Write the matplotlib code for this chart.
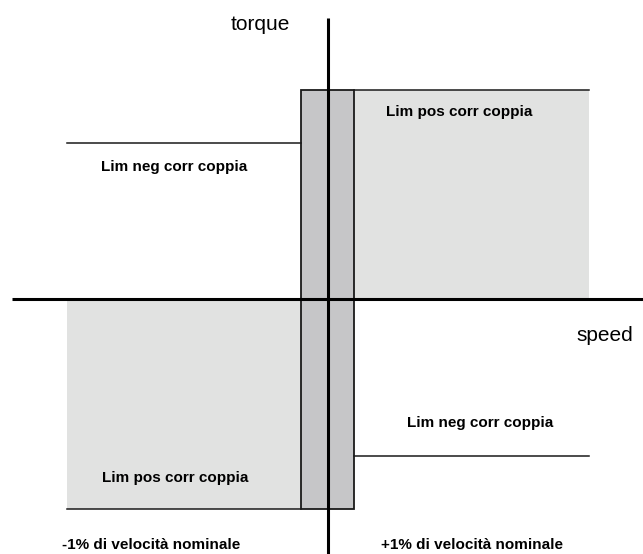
import matplotlib
matplotlib.use("Agg")
import matplotlib.pyplot as plt
from matplotlib.patches import Rectangle

plt.rcParams['font.family'] = ['Liberation Sans', 'DejaVu Sans']

# --- data (speed in % of nominal, torque normalised) ---
speed_band = [-1.0, 1.0]          # ±1% di velocità nominale
speed_extent = [-9.85, 9.85]      # horizontal extent of the limit regions
torque_pos_lim = 1.0              # Lim pos corr coppia
torque_neg_lim = 0.75             # Lim neg corr coppia
axis_labels = ["speed", "torque"]
region_labels = ["Lim pos corr coppia", "Lim neg corr coppia",
                 "Lim neg corr coppia", "Lim pos corr coppia"]
band_labels = ["-1% di velocità nominale", "+1% di velocità nominale"]

fig = plt.figure(figsize=(6.43, 5.54), dpi=100)
ax = fig.add_axes([0, 0, 1, 1])
ax.set_xlim(-12.377, 11.887)
ax.set_ylim(-1.2177, 1.433)
ax.axis('off')

dark = '#c6c6c8'
light = '#e1e2e1'

# light regions
ax.add_patch(Rectangle((speed_band[1], 0), speed_extent[1] - speed_band[1],
                       torque_pos_lim, facecolor=light, edgecolor='none', zorder=1))
ax.add_patch(Rectangle((speed_extent[0], -torque_pos_lim), speed_band[0] - speed_extent[0],
                       torque_pos_lim, facecolor=light, edgecolor='none', zorder=1))

# dark band
ax.add_patch(Rectangle((speed_band[0], -torque_pos_lim), speed_band[1] - speed_band[0],
                       2 * torque_pos_lim, facecolor=dark, edgecolor='#1a1a1a',
                       linewidth=1.3, zorder=2))

# limit lines
lw = 1.1
ax.plot([speed_band[1], speed_extent[1]], [torque_pos_lim, torque_pos_lim], color='#1a1a1a', lw=lw, zorder=3)
ax.plot([speed_extent[0], speed_band[0]], [-torque_pos_lim, -torque_pos_lim], color='#1a1a1a', lw=lw, zorder=3)
ax.plot([speed_extent[0], speed_band[0]], [torque_neg_lim, torque_neg_lim], color='#1a1a1a', lw=lw, zorder=3)
ax.plot([speed_band[1], speed_extent[1]], [-torque_neg_lim, -torque_neg_lim], color='#1a1a1a', lw=lw, zorder=3)

# axes
ax.plot([-11.92, 11.887], [0, 0], color='black', lw=2.2, zorder=4, solid_capstyle='butt')
ax.plot([0, 0], [1.347, -1.2177], color='black', lw=2.2, zorder=4, solid_capstyle='butt')

# texts
ax.text(-2.57, 1.315, axis_labels[1], fontsize=15, ha='center', va='center')
ax.text(10.45, -0.17, axis_labels[0], fontsize=15, ha='center', va='center')

bold = dict(fontsize=11, fontweight='bold', ha='center', va='center')
ax.text(4.94, 0.895, region_labels[0], **bold)
ax.text(-5.81, 0.634, region_labels[1], **bold)
ax.text(5.73, -0.591, region_labels[2], **bold)
ax.text(-5.75, -0.854, region_labels[3], **bold)
ax.text(-6.66, -1.175, band_labels[0], **bold)
ax.text(5.43, -1.175, band_labels[1], **bold)

fig.savefig('out.png', dpi=100)
